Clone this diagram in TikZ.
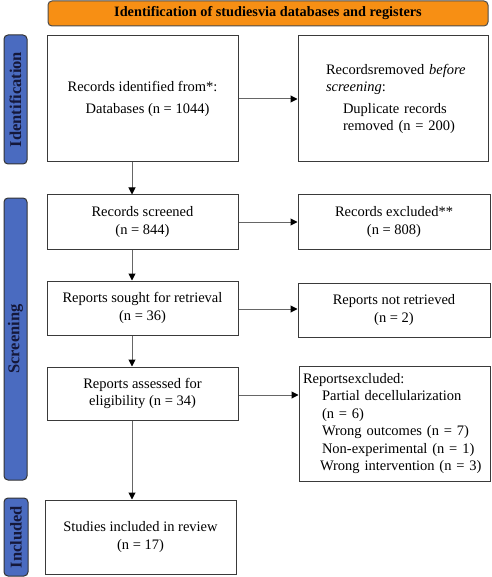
\documentclass[tikz,border=0pt]{standalone}
\usepackage{fontspec}
\setmainfont{Liberation Serif}
\usetikzlibrary{arrows.meta,calc}
\definecolor{bannerorange}{HTML}{F78F14}
\definecolor{sideblue}{HTML}{4A6BC0}
\definecolor{sidetext}{HTML}{15183A}
\definecolor{boxline}{HTML}{3A3A3A}
\begin{document}
\begin{tikzpicture}[x=1pt,y=-1pt,
  box/.style={draw=boxline,line width=1pt,inner sep=2pt,font=\fontsize{14.5}{17.5}\selectfont},
  side/.style={draw=black!80,line width=1pt,fill=sideblue,rounded corners=4pt},
  sidelabel/.style={rotate=90,font=\fontsize{16.5}{18}\selectfont\bfseries,text=sidetext},
  arr/.style={draw=black!60,line width=1pt,-{Triangle[length=7pt,width=7pt,color=black]}}]
\useasboundingbox (0,0) rectangle (491,577);
% banner
\node[draw=black!70,line width=1pt,fill=bannerorange,rounded corners=4pt,minimum width=440,minimum height=25,font=\fontsize{14.3}{15}\selectfont\bfseries] (banner) at (268,13.5) {Identification of studiesvia databases and registers};
% side bars
\node[side,minimum width=129,minimum height=23,rotate=90] (sideid) at (15.5,99.5) {};
\node[sidelabel] at (sideid.center) {Identification};
\node[side,minimum width=282,minimum height=23,rotate=90] (sidescr) at (15.5,339) {};
\node[sidelabel] at (sidescr.center) {Screening};
\node[side,minimum width=78,minimum height=24,rotate=90] (sideinc) at (16,537) {};
\node[sidelabel] at (sideinc.center) {Included};
% boxes
\node[box,minimum width=191,minimum height=126,align=center] (b1) at (142.5,99) {Records identified from*:\\[4pt]\hspace*{10pt}Databases (n = 1044)};
\node[box,minimum width=190,minimum height=126,text width=182,align=left] (b2) at (393,99) {\hspace*{24pt}Records\hspace{0pt}removed \textit{before}\\\hspace*{24pt}\textit{screening}:\\[4pt]\hspace*{41pt}Duplicate records\\\hspace*{41pt}removed (n = 200)};
\node[box,minimum width=191,minimum height=54,align=center] (b3) at (142.5,222) {Records screened\\(n = 844)};
\node[box,minimum width=192,minimum height=54,align=center] (b4) at (394,222) {Records excluded**\\(n = 808)};
\node[box,minimum width=191,minimum height=54,align=center] (b5) at (142.5,308) {Reports sought for retrieval\\(n = 36)};
\node[box,minimum width=192,minimum height=54,align=center] (b6) at (394,310) {Reports not retrieved\\(n = 2)};
\node[box,minimum width=191,minimum height=53,align=center] (b7) at (142.5,393.5) {Reports assessed for\\eligibility (n = 34)};
\node[box,minimum width=191,minimum height=115,text width=183,align=left] (b8) at (394.5,423.5) {Reports\hspace{0pt}excluded:\\\hspace*{19pt}Partial decellularization\\\hspace*{19pt}(n = 6)\\\hspace*{19pt}Wrong outcomes (n = 7)\\\hspace*{19pt}Non-experimental (n = 1)\\\hspace*{17pt}Wrong intervention (n = 3)};
\node[box,minimum width=191,minimum height=74,align=center] (b9) at (140.5,537) {Studies included in review\\(n = 17)};
% arrows
\coordinate (ax) at (132,0);
\coordinate (a5) at (0,309);
\coordinate (a7) at (0,395);
\draw[arr] (b1.east) -- (b2.west);
\draw[arr] (b3.east) -- (b4.west);
\draw[arr] (b5.east |- a5) -- (b6.west |- a5);
\draw[arr] (b7.east |- a7) -- (b8.west |- a7);
\draw[arr] (b1.south -| ax) -- (b3.north -| ax);
\draw[arr] (b3.south -| ax) -- (b5.north -| ax);
\draw[arr] (b5.south -| ax) -- (b7.north -| ax);
\draw[arr] (b7.south -| ax) -- (b9.north -| ax);
\end{tikzpicture}
\end{document}
